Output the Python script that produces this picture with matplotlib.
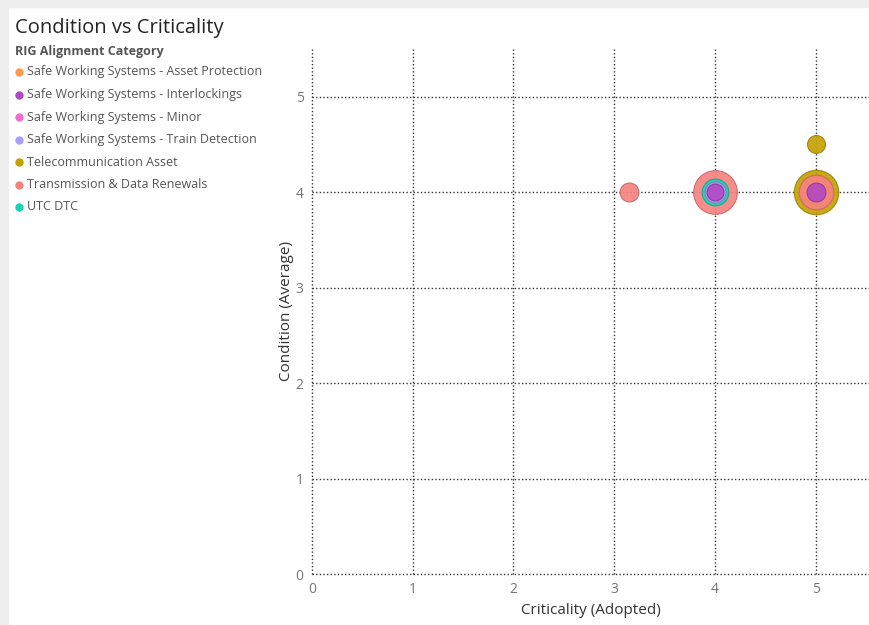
import matplotlib
matplotlib.use("Agg")
import matplotlib.pyplot as plt
from matplotlib.lines import Line2D
from matplotlib.patches import Rectangle
from matplotlib.colors import to_rgb

# Legend categories and colours
categories = [
    "Safe Working Systems - Asset Protection",
    "Safe Working Systems - Interlockings",
    "Safe Working Systems - Minor",
    "Safe Working Systems - Train Detection",
    "Telecommunication Asset",
    "Transmission & Data Renewals",
    "UTC DTC",
]
colors = ["#FF9A4D", "#B348C4", "#F36CD4", "#A8A0F5", "#C4A000", "#F7817F", "#16D4B6"]

# Bubbles: category, criticality, condition, size value
point_category = [
    "Transmission & Data Renewals",
    "Transmission & Data Renewals",
    "Transmission & Data Renewals",
    "Telecommunication Asset",
    "Telecommunication Asset",
    "UTC DTC",
    "Safe Working Systems - Train Detection",
    "Safe Working Systems - Interlockings",
    "Safe Working Systems - Interlockings",
]
criticality = [3.15, 4, 5, 5, 5, 4, 4, 4, 5]
condition = [4.0, 4.0, 4.0, 4.0, 4.5, 4.0, 4.0, 4.0, 4.0]
bubble_size = [3, 16, 10, 16.5, 2.7, 6, 3.7, 2.4, 3]

plt.rcParams['font.family'] = ['Open Sans', 'DejaVu Sans']

fig = plt.figure(figsize=(8.69, 6.25), dpi=100)

# light grey frame like the report canvas
fig.patches.append(Rectangle((0, 1 - 7 / 625), 1, 7 / 625, transform=fig.transFigure,
                             color="#eeeeee", zorder=0))
fig.patches.append(Rectangle((0, 0), 8 / 869, 1, transform=fig.transFigure,
                             color="#eeeeee", zorder=0))

ax = fig.add_axes([312 / 869, 1 - 574 / 625, 1 - 312 / 869, (574 - 48) / 625])

color_map = dict(zip(categories, colors))
order = sorted(range(len(bubble_size)), key=lambda i: -bubble_size[i])
for i in order:
    c = color_map[point_category[i]]
    edge = tuple(v * 0.8 for v in to_rgb(c))
    ax.scatter(criticality[i], condition[i], s=bubble_size[i] * 62, color=c,
               alpha=0.9, edgecolors=[edge], linewidths=0.8, zorder=3)

ax.set_xlim(0, 5.53)
ax.set_ylim(0, 5.51)
ax.set_xticks(range(6))
ax.set_yticks(range(6))
ax.grid(True, color="#333333", linestyle=(0, (1, 1.6)), linewidth=1.0)
for gl in ax.get_xgridlines() + ax.get_ygridlines():
    gl.set_clip_on(False)
for s in ax.spines.values():
    s.set_visible(False)
ax.tick_params(length=0, labelsize=10, labelcolor="#777777", pad=6)
ax.set_xlabel("Criticality (Adopted)", fontsize=11, color="#333333", labelpad=4)
ax.set_ylabel("Condition (Average)", fontsize=11, color="#333333", labelpad=1)

fig.text(15 / 869, 1 - 28 / 625, "Condition vs Criticality", fontsize=14.5,
         color="#252423", va="center", ha="left")
fig.text(15 / 869, 1 - 51 / 625, "RIG Alignment Category", fontsize=9,
         fontweight="bold", color="#555555", va="center", ha="left")

for k, (name, col) in enumerate(zip(categories, colors)):
    y = 1 - (72 + k * 22.5) / 625
    fig.add_artist(Line2D([19 / 869], [y], marker="o", markersize=5, color=col,
                          linestyle="none", transform=fig.transFigure))
    fig.text(27 / 869, y, name, fontsize=9, color="#555555", va="center", ha="left")

fig.savefig("out.png", dpi=100)
